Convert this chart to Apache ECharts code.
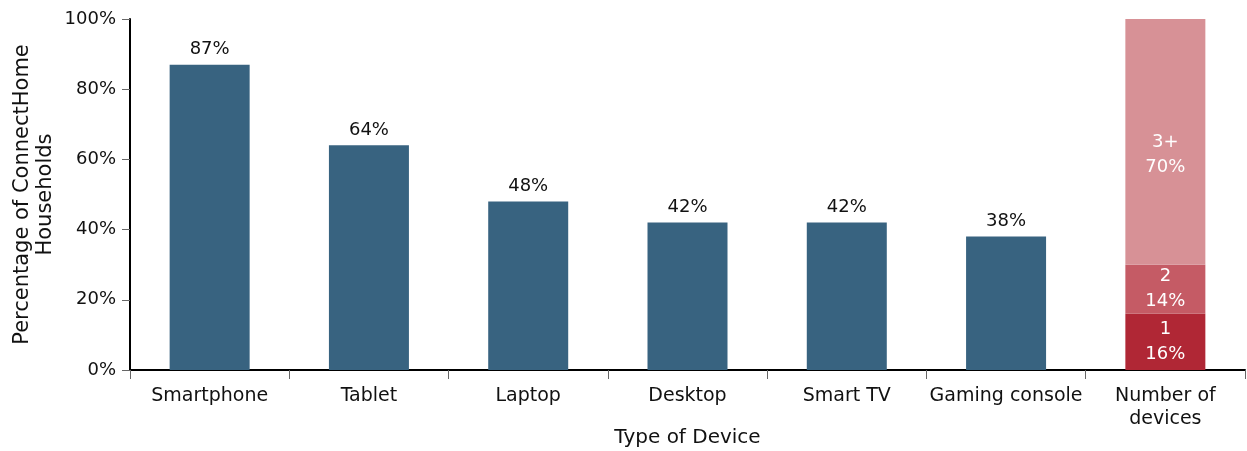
<!DOCTYPE html>
<html><head><meta charset="utf-8">
<script src="https://cdn.jsdelivr.net/npm/echarts@6/dist/echarts.min.js"></script>
<style>html,body{margin:0;padding:0;background:#fff}#c{width:1247px;height:451px}</style>
</head><body><div id="c"></div>
<script>
var categories = ['Smartphone','Tablet','Laptop','Desktop','Smart TV','Gaming console','Number of\ndevices'];
var deviceValues = [87,64,48,42,42,38];
var countLabels = ['1','2','3+'];
var countValues = [16,14,70];
var yTicks = [0,20,40,60,80,100];

var FONT = 'DejaVu Sans';
var blueData = deviceValues.concat(['-']);
function lastOnly(v){ var a = categories.map(function(){return '-';}); a[categories.length-1] = v; return a; }
var redColors = ['#B02735','#C55B65','#D79196'];

var series = [{
  type:'bar', stack:'s', barWidth:80, data:blueData,
  itemStyle:{color:'#386380'},
  label:{show:true, position:'top', formatter:'{c}%', color:'#111', fontFamily:FONT, fontSize:18, distance:6}
}];
countValues.forEach(function(v,i){
  series.push({
    type:'bar', stack:'s', barWidth:80, data:lastOnly(v),
    itemStyle:{color:redColors[i]},
    label:{show:true, position:'inside', offset: i===2 ? [0,13] : [0,0],
      formatter: countLabels[i]+'\n'+v+'%', color:'#fff', fontFamily:FONT, fontSize:18, lineHeight:25}
  });
});

var chart = echarts.init(document.getElementById('c'));
chart.setOption({
  animation:false,
  grid:{left:130, right:2, top:19, bottom:81, containLabel:false, outerBoundsMode:'none'},
  xAxis:{type:'category', data:categories,
    name:'Type of Device', nameLocation:'middle', nameGap:58, nameMoveOverlap:false,
    nameTextStyle:{fontFamily:FONT, fontSize:20, color:'#111'},
    axisLine:{lineStyle:{color:'#000', width:2}},
    axisTick:{show:true, alignWithLabel:false, length:9, lineStyle:{color:'#666'}},
    axisLabel:{interval:0, fontFamily:FONT, fontSize:19, color:'#111', margin:15, lineHeight:23}
  },
  yAxis:{type:'value', min:0, max:100, interval:20,
    name:'Percentage of ConnectHome\nHouseholds', nameLocation:'middle', nameGap:73, nameRotate:90, nameMoveOverlap:false,
    nameTextStyle:{fontFamily:FONT, fontSize:21, color:'#111', lineHeight:23},
    axisLine:{show:true, lineStyle:{color:'#000', width:2}},
    axisTick:{show:true, length:8, lineStyle:{color:'#666'}},
    splitLine:{show:false},
    axisLabel:{fontFamily:FONT, fontSize:18, color:'#111', margin:14, formatter:'{value}%'}
  },
  series:series
});
</script></body></html>
